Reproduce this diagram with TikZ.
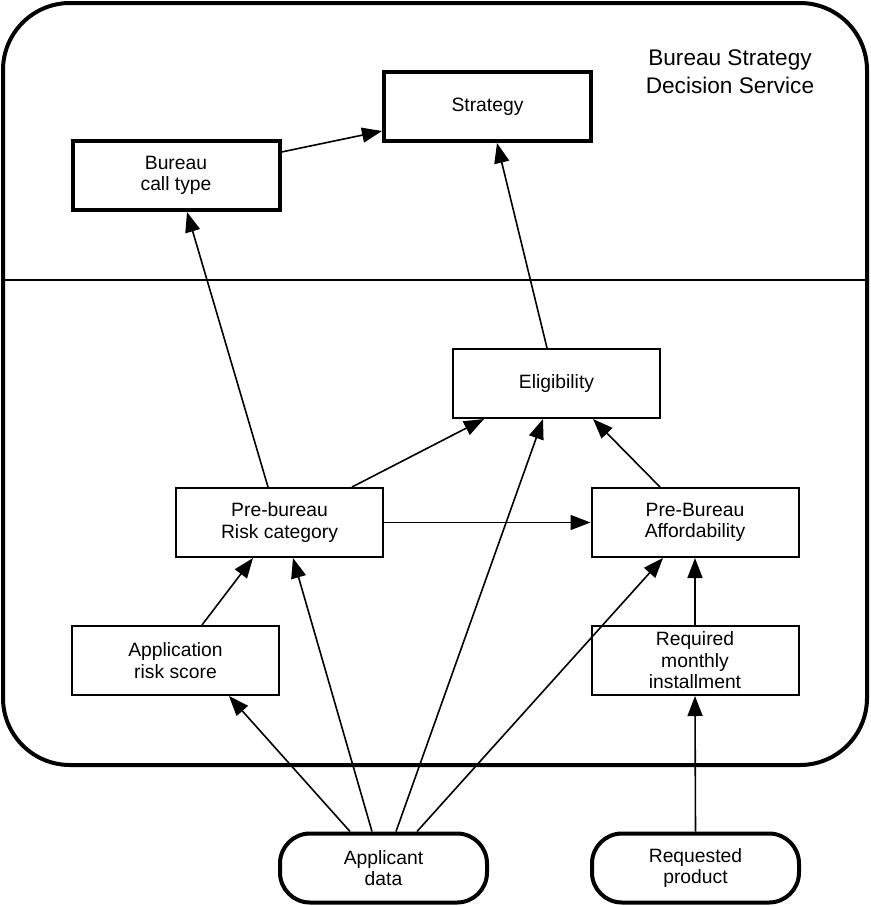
\documentclass[tikz,border=0pt]{standalone}
\usepackage{fontspec}
\setmainfont{Liberation Sans}
\usetikzlibrary{arrows.meta,calc}
\begin{document}
\begin{tikzpicture}[x=1pt,y=-1pt,
  box/.style={draw,line width=2pt,minimum width=207pt,minimum height=69pt,inner sep=0pt,align=center,
    font=\fontsize{19.3}{21.5}\selectfont},
  thickbox/.style={box,line width=4pt},
  pill/.style={box,line width=4pt,rounded corners=30pt},
  arr/.style={line width=1.6pt,-{Triangle[length=20pt,width=15pt]}}]
\useasboundingbox (0,0) rectangle (871,906);
% service boundary
\draw[line width=4pt,rounded corners=67pt] (3,3) rectangle (867,765);
\coordinate (divL) at (3,280);
\coordinate (divR) at (867,280);
\draw[line width=2pt] (divL) -- (divR);
\node[align=center,font=\fontsize{22.6}{28}\selectfont] (title) at (730,72) {Bureau Strategy\\Decision Service};
% nodes
\node[thickbox] (strat) at (487.5,106.5) {Strategy};
\node[thickbox] (bct) at (176,175.5) {Bureau\\call type};
\node[box] (elig) at (556.5,383.5) {Eligibility};
\node[box] (prc) at (279.5,522.5) {Pre-bureau\\Risk category};
\node[box] (pba) at (695,522.5) {Pre-Bureau\\Affordability};
\node[box] (ars) at (175.5,660.5) {Application\\risk score};
\node[box] (rmi) at (695,660.5) {Required\\monthly\\installment};
\node[pill] (ad) at (383.5,868) {Applicant\\data};
\node[pill] (rp) at (695.5,868) {Requested\\product};
% connectors
\draw[arr] ([yshift=23.5pt]bct.east) -- ([yshift=-24.5pt]strat.west);
\draw[arr] ([xshift=-11.5pt]prc.north) -- ([xshift=11pt]bct.south);
\draw[arr] ([xshift=-9.5pt]elig.north) -- ([xshift=9.5pt]strat.south);
\draw[arr] ([xshift=72.5pt]prc.north) -- ([xshift=-72.5pt]elig.south);
\draw[arr] (prc.east) -- (pba.west);
\draw[arr] ([xshift=-35pt]pba.north) -- ([xshift=36.5pt]elig.south);
\draw[arr] ([xshift=12.5pt]ad.north) -- ([xshift=-13.5pt]elig.south);
\draw[arr] ([xshift=26.5pt]ars.north) -- ([xshift=-26.5pt]prc.south);
\draw[arr] ([xshift=-11.5pt]ad.north) -- ([xshift=13.5pt]prc.south);
\draw[arr] ([xshift=33.5pt]ad.north) -- ([xshift=-32pt]pba.south);
\draw[arr] (rmi.north) -- (pba.south);
\draw[arr] ([xshift=-33.5pt]ad.north) -- ([xshift=53.5pt]ars.south);
\draw[arr] (rp.north) -- (rmi.south);
\end{tikzpicture}
\end{document}
